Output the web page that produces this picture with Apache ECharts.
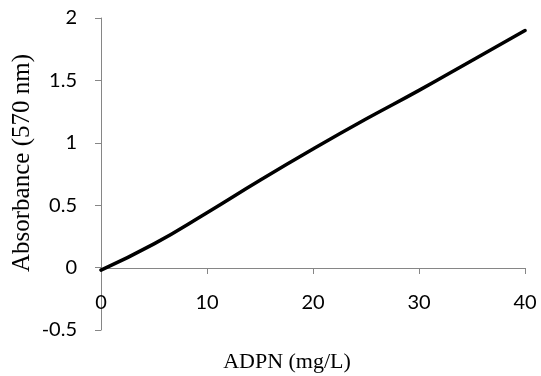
<!DOCTYPE html>
<html>
<head>
<meta charset="utf-8">
<script src="https://cdn.jsdelivr.net/npm/echarts@6/dist/echarts.min.js"></script>
<style>
  html, body { margin: 0; padding: 0; background: #fff; }
  #chart { width: 541px; height: 376px; }
</style>
</head>
<body>
<div id="chart"></div>
<script>
// concentration (mg/L) and absorbance
const adpn = [0, 5, 10, 15, 20, 25, 30, 35, 40];
const absorbance = [-0.02, 0.19, 0.44, 0.70, 0.95, 1.19, 1.42, 1.66, 1.90];
const xTicks = { min: 0, max: 40, interval: 10 };
const yTicks = { min: -0.5, max: 2, interval: 0.5 };

const chart = echarts.init(document.getElementById('chart'));

const axisGray = '#868686';
const labelFont = 'Lato, "Open Sans", sans-serif';
const titleFont = '"Liberation Serif", "DejaVu Serif", serif';

// grid 1 holds the data; grid 2 ends at y = 0 and only carries the x axis
const option = {
  animation: false,
  grid: [
    { left: 101, right: 16, top: 18, bottom: 46, outerBoundsMode: 'none' },
    { left: 101, right: 16, top: 18, bottom: 108, outerBoundsMode: 'none' }
  ],
  xAxis: [
    {
      gridIndex: 0,
      type: 'value',
      min: xTicks.min,
      max: xTicks.max,
      interval: xTicks.interval,
      show: false
    },
    {
      gridIndex: 1,
      type: 'value',
      min: xTicks.min,
      max: xTicks.max,
      interval: xTicks.interval,
      name: 'ADPN (mg/L)',
      nameLocation: 'middle',
      nameGap: 83,
      nameMoveOverlap: false,
      nameTextStyle: {
        fontFamily: titleFont,
        fontSize: 22,
        color: '#000',
        padding: [0, 52, 0, 0]
      },
      axisLine: { show: true, onZero: false, lineStyle: { color: axisGray, width: 1 } },
      axisTick: { show: true, length: 6, lineStyle: { color: axisGray, width: 1 } },
      axisLabel: {
        margin: 25,
        fontFamily: labelFont,
        fontSize: 20,
        color: '#000'
      },
      splitLine: { show: false }
    }
  ],
  yAxis: [
    {
      gridIndex: 0,
      type: 'value',
      min: yTicks.min,
      max: yTicks.max,
      interval: yTicks.interval,
      name: 'Absorbance (570 nm)',
      nameLocation: 'middle',
      nameGap: 66,
      nameMoveOverlap: false,
      nameTextStyle: {
        fontFamily: titleFont,
        fontSize: 25,
        color: '#000',
        padding: [0, 0, 0, 22]
      },
      axisLine: { show: true, onZero: false, lineStyle: { color: axisGray, width: 1 } },
      axisTick: { show: true, length: 6, lineStyle: { color: axisGray, width: 1 } },
      axisLabel: {
        margin: 24,
        fontFamily: labelFont,
        fontSize: 20,
        color: '#000'
      },
      splitLine: { show: false }
    },
    {
      gridIndex: 1,
      type: 'value',
      min: 0,
      max: yTicks.max,
      show: false
    }
  ],
  series: [
    {
      type: 'line',
      xAxisIndex: 0,
      yAxisIndex: 0,
      data: adpn.map((x, i) => [x, absorbance[i]]),
      showSymbol: false,
      smooth: true,
      lineStyle: { color: '#000', width: 3.5, cap: 'round' }
    }
  ]
};

chart.setOption(option);
</script>
</body>
</html>
